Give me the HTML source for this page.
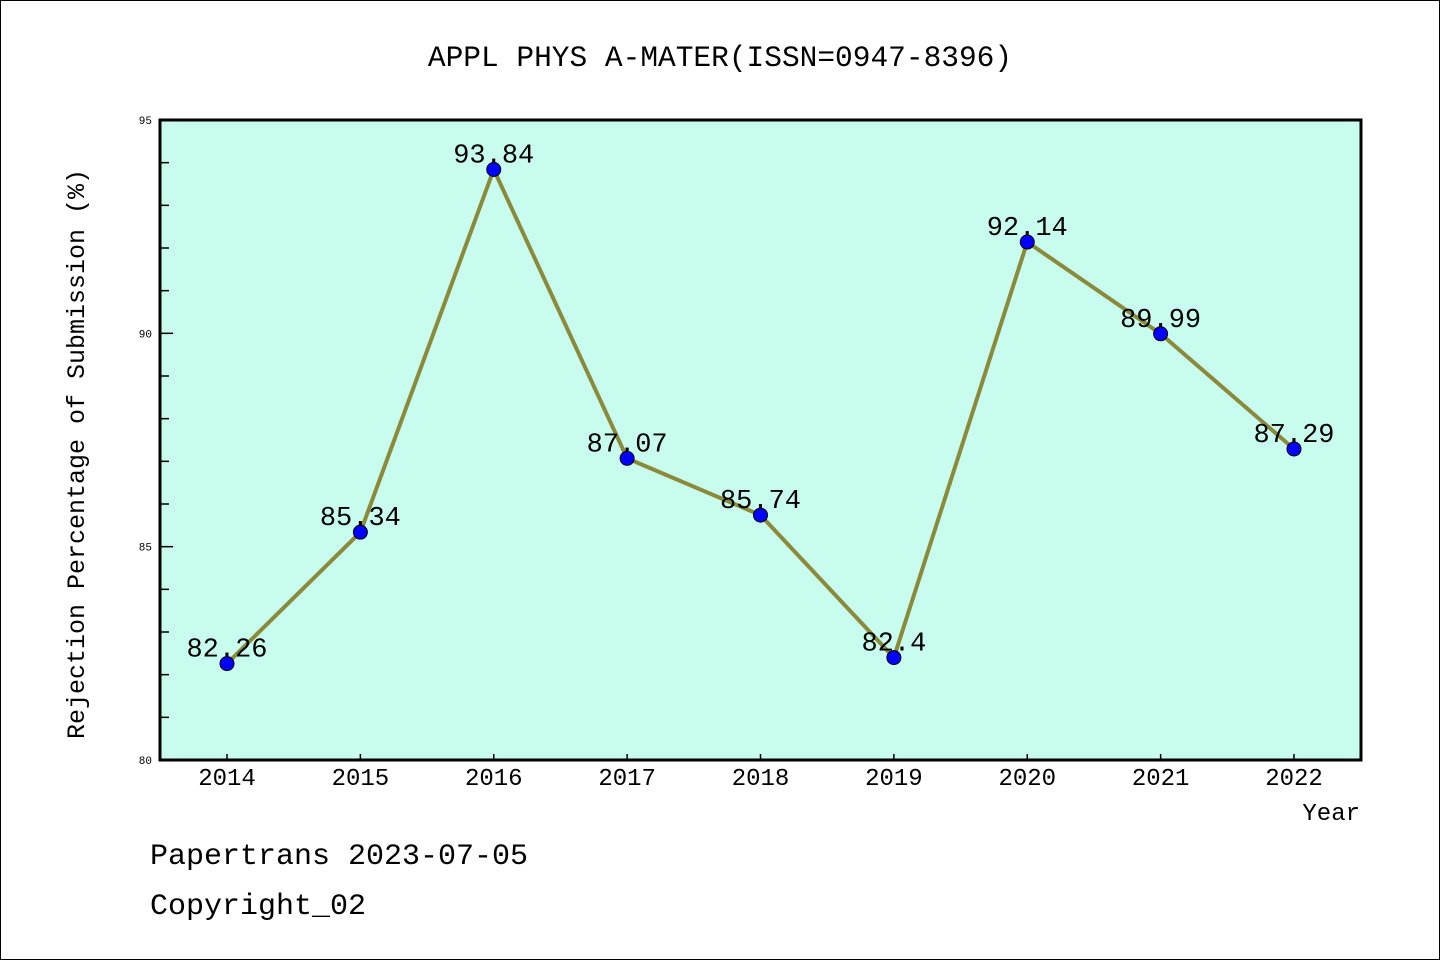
<!DOCTYPE html>
<html><head><meta charset="utf-8"><style>
body{margin:0;background:#fff}
svg{display:block}
text{font-family:"Liberation Mono","WenQuanYi Zen Hei",monospace;fill:#000}
</style></head><body>
<svg id="chart" width="1440" height="960" xmlns="http://www.w3.org/2000/svg">
<rect x="0.5" y="0.5" width="1439" height="959" fill="#fff" stroke="#000"/>
<text x="720" y="66" font-size="29.5" text-anchor="middle">APPL PHYS A-MATER(ISSN=0947-8396)</text>
<rect x="160" y="120" width="1201" height="640" fill="#c8fcee"/>
<g id="ticks"></g>
<g id="series"></g>
<rect x="160" y="120" width="1201" height="640" fill="none" stroke="#000" stroke-width="3"/>
<text transform="translate(84,454) rotate(-90)" font-size="25" text-anchor="middle">Rejection Percentage of Submission (%)</text>
<text x="1360" y="820" font-size="24" text-anchor="end">Year</text>
<text x="150" y="864" font-size="30">Papertrans 2023-07-05</text>
<text x="150" y="914" font-size="30">Copyright_02</text>
</svg>
<script>
const years=["2014","2015","2016","2017","2018","2019","2020","2021","2022"];
const values=[82.26,85.34,93.84,87.07,85.74,82.4,92.14,89.99,87.29];
const valueLabels=["82.26","85.34","93.84","87.07","85.74","82.4","92.14","89.99","87.29"];
const yTicks=[80,85,90,95];
(function(){
const NS="http://www.w3.org/2000/svg";
const y0=80,y1=95,pTop=120,pBot=760;
const ys=v=>pBot-(v-y0)/(y1-y0)*(pBot-pTop);
const xs=i=>227+i*(1294-227)/(years.length-1);
function mk(t,a,p){const e=document.createElementNS(NS,t);for(const k in a)e.setAttribute(k,a[k]);p.appendChild(e);return e;}
const tg=document.getElementById('ticks'),sg=document.getElementById('series');
for(let v=y0;v<=y1;v++){
  const major=yTicks.includes(v);
  const l=mk('line',{x1:160,x2:major?173:169,y1:ys(v),y2:ys(v),stroke:'#000','stroke-width':1.5},tg);
  
  
}
yTicks.forEach(v=>{
  const t=mk('text',{x:152,y:ys(v)+4,'font-size':11,'text-anchor':'end'},tg);t.textContent=v;
  
  
});
years.forEach((y,i)=>{
  const l=mk('line',{x1:xs(i),x2:xs(i),y1:760,y2:754,stroke:'#000','stroke-width':1.5},tg);
  
  
  const t=mk('text',{x:xs(i),y:785,'font-size':24,'text-anchor':'middle'},tg);t.textContent=y;
  
  
});
const pl=mk('polyline',{points:values.map((v,i)=>xs(i)+','+ys(v)).join(' '),fill:'none',stroke:'#8b8a3a','stroke-width':4,'stroke-linejoin':'round'},sg);


values.forEach((v,i)=>{
  const c=mk('circle',{cx:xs(i),cy:ys(v),r:7,fill:'#0000ff',stroke:'#000','stroke-width':1},sg);
  
  
  const t=mk('text',{x:xs(i),y:ys(v)-7,'font-size':27,'text-anchor':'middle'},sg);t.textContent=valueLabels[i];
  
  
});
})();
</script>
</body></html>
